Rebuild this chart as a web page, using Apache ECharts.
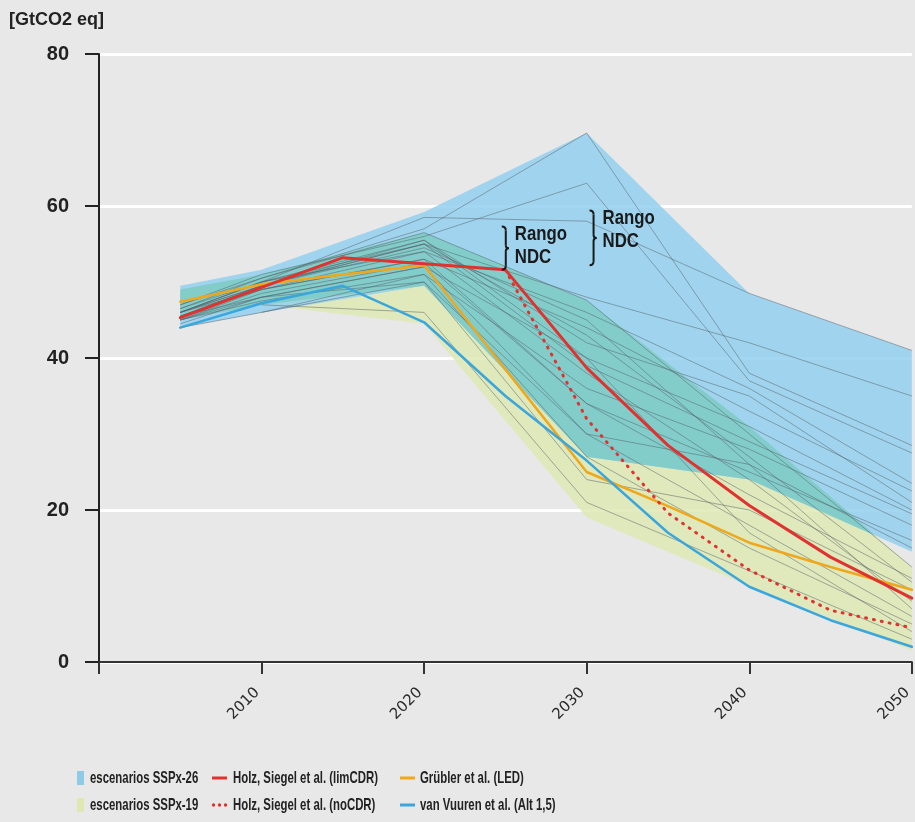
<!DOCTYPE html>
<html>
<head>
<meta charset="utf-8">
<script src="https://cdn.jsdelivr.net/npm/echarts@6/dist/echarts.min.js"></script>
<style>
html,body{margin:0;padding:0;background:#e8e8e8;}
#chart{width:915px;height:822px;}
</style>
</head>
<body>
<div id="chart"></div>
<script>
// ---------- data ----------
const scenarioYears = [2005, 2010, 2020, 2030, 2040, 2050];
const ssp26Upper = [49.5, 51.6, 59.2, 69.6, 48.5, 41];
const ssp26Lower = [44, 46, 49.5, 27, 24, 14.5];
const ssp19Upper = [49, 51, 56.5, 47.6, 31, 12.5];
const ssp19Lower = [45, 47, 44.5, 19, 10, 1.5];

const ssp26Runs = [
  [46.5, 50.5, 57, 69.6, 38, 28.5],
  [47, 51, 56, 63, 37, 27.5],
  [46, 50, 58.5, 58, 48.5, 41],
  [45.5, 49.5, 55, 48, 42, 35],
  [46, 50, 54, 46, 36, 23.5],
  [45, 49, 53, 44, 33, 22.5],
  [45.5, 49.5, 55.5, 42, 35, 21],
  [44.5, 48, 52, 40, 31, 20],
  [44, 46, 50, 30, 26, 15],
  [null, 46, 51, 36, 28, 18],
  [46, 50, 55, 39, 29, 19.5],
  [45, 48.5, 52.5, 34, 25, 16]
];
const ssp19Runs = [
  [47, 50.5, 56.5, 47.6, 30, 12.5],
  [46, 49.5, 55, 43, 27, 10.5],
  [45.5, 49, 54, 38, 24, 8],
  [46, 49, 53, 34, 22, 11],
  [45, 48, 52, 30, 18, 6],
  [45, 47.5, 51, 27, 15, 5],
  [null, 47, 46, 21, 12, 3],
  [45.5, 48, 50, 24, 20, 9.5],
  [46.5, 50, 55.5, 40, 17, 4],
  [46, 49.5, 54.5, 45, 26, 7]
];

const modelYears = [2005, 2010, 2015, 2020, 2025, 2030, 2035, 2040, 2045, 2050];
const holzLimCDR = [45.3, 49.3, 53.2, 52.4, 51.6, 38.7, 28.5, 20.6, 13.8, 8.4];
const holzNoCDR  = [null, null, null, null, 51.6, 32, 19.6, 12.1, 6.8, 4.5];
const grublerLED = [47.4, 49.7, 51, 52.2, 38.5, 25, 20.5, 15.7, 12.5, 9.5];
const vanVuuren  = [44, 47.2, 49.5, 44.7, 35, 26.5, 17, 9.9, 5.5, 2];

const yTicks = [0, 20, 40, 60, 80];
const xTicks = [2000, 2010, 2020, 2030, 2040, 2050];

const names = {
  s26: 'escenarios SSPx-26',
  s19: 'escenarios SSPx-19',
  lim: 'Holz, Siegel et al. (limCDR)',
  no: 'Holz, Siegel et al. (noCDR)',
  led: 'Grübler et al. (LED)',
  alt: 'van Vuuren et al. (Alt 1,5)'
};
const colors = {
  s26: '#8ecbe8', s19: '#dde8b2',
  lim: '#e0322f', no: '#e0322f', led: '#efa71c', alt: '#3aa6dc'
};
const bandFill = {
  s26: 'rgba(147,208,239,0.85)',
  s19: 'rgba(221,233,179,0.85)',
  both: 'rgba(126,204,198,0.9)'
};
const ndcNotes = [
  {year: 2024.9, from: 51.6, to: 57.3},
  {year: 2030.3, from: 52.2, to: 59.4}
];

// ---------- helpers ----------
const FONT = '"Liberation Sans", Arial, sans-serif';
function pairs(xs, ys) {
  const out = [];
  xs.forEach((x, i) => { if (ys[i] != null) out.push([x, ys[i]]); });
  return out;
}
// overlap of the two envelopes (x-monotone bands), in data units
function overlapEdges() {
  const lo = scenarioYears.map((_, i) => Math.max(ssp26Lower[i], ssp19Lower[i]));
  const hi = scenarioYears.map((_, i) => Math.min(ssp26Upper[i], ssp19Upper[i]));
  const top = [], bot = [];
  for (let i = 0; i < scenarioYears.length; i++) {
    const d = hi[i] - lo[i];
    if (d >= 0) { top.push([scenarioYears[i], hi[i]]); bot.push([scenarioYears[i], lo[i]]); }
    if (i < scenarioYears.length - 1) {
      const d2 = hi[i + 1] - lo[i + 1];
      if ((d >= 0) !== (d2 >= 0)) {
        const t = d / (d - d2);
        const x = scenarioYears[i] + t * (scenarioYears[i + 1] - scenarioYears[i]);
        const v = lo[i] + t * (lo[i + 1] - lo[i]);
        top.push([x, v]); bot.push([x, v]);
      }
    }
  }
  return {top, bot};
}
function polygonSeries(getEdges, fill, z) {
  return {
    type: 'custom', silent: true, z: z, clip: true,
    data: [[2030, 40]],
    renderItem: (params, api) => {
      const e = getEdges();
      const pts = e.top.map(p => api.coord(p)).concat(e.bot.slice().reverse().map(p => api.coord(p)));
      return {type: 'polygon', shape: {points: pts}, style: {fill: fill}};
    }
  };
}
function envelope(lower, upper) {
  return () => ({top: pairs(scenarioYears, upper), bot: pairs(scenarioYears, lower)});
}
function runLine(vals) {
  return {
    type: 'line', silent: true, showSymbol: false, symbol: 'none',
    data: pairs(scenarioYears, vals),
    lineStyle: {color: 'rgba(85,95,105,0.5)', width: 1}, z: 4
  };
}
function mainLine(key, vals, width, type) {
  return {
    type: 'line', name: names[key], silent: true, showSymbol: false, symbol: 'none',
    data: pairs(modelYears, vals),
    itemStyle: {color: colors[key]},
    lineStyle: {color: colors[key], width: width, type: type || 'solid', cap: 'round'},
    z: 6
  };
}

const series = [].concat(
  [
    polygonSeries(envelope(ssp19Lower, ssp19Upper), bandFill.s19, 1),
    polygonSeries(envelope(ssp26Lower, ssp26Upper), bandFill.s26, 2),
    polygonSeries(overlapEdges, bandFill.both, 3)
  ],
  ssp26Runs.map(runLine),
  ssp19Runs.map(runLine),
  [
    mainLine('led', grublerLED, 2.5),
    mainLine('alt', vanVuuren, 2.5),
    mainLine('no', holzNoCDR, 3, [1, 7]),
    mainLine('lim', holzLimCDR, 3)
  ]
);

const chart = echarts.init(document.getElementById('chart'), null, {renderer: 'canvas'});
chart.setOption({
  backgroundColor: '#e8e8e8',
  animation: false,
  title: {
    text: '[GtCO2 eq]', left: 4, top: 6,
    textStyle: {fontFamily: FONT, fontWeight: 'bold', fontSize: 18, color: '#222'}
  },
  grid: {left: 99, right: 2, top: 54, bottom: 160, containLabel: false},
  xAxis: {
    type: 'value', min: xTicks[0], max: xTicks[xTicks.length - 1], interval: 10,
    axisLine: {lineStyle: {color: '#333', width: 2}},
    axisTick: {show: true, length: 12, lineStyle: {color: '#333', width: 2}},
    axisLabel: {
      rotate: 45, margin: 24, padding: [0, 6, 0, 0],
      fontFamily: '"DejaVu Sans", sans-serif', fontSize: 15, color: '#2a2a2a',
      formatter: v => (xTicks.indexOf(v) > 0 ? String(v) : '')
    },
    splitLine: {show: false}
  },
  yAxis: {
    type: 'value', min: yTicks[0], max: yTicks[yTicks.length - 1], interval: 20,
    axisLine: {show: true, lineStyle: {color: '#222', width: 2}},
    axisTick: {show: true, length: 14, lineStyle: {color: '#222', width: 2}},
    axisLabel: {margin: 30, fontFamily: FONT, fontWeight: 'bold', fontSize: 20, color: '#222'},
    splitLine: {show: true, lineStyle: {color: '#ffffff', width: 3}}
  },
  series: series
});

// ---------- annotations & legend (graphic elements) ----------
const graphics = [];
const ink = '#1a1a1a';
function seg(x1, y1, x2, y2) {
  return {type: 'line', z: 100, shape: {x1, y1, x2, y2}, style: {stroke: ink, lineWidth: 2}};
}
function curl(x1, y1, cx, cy, x2, y2) {
  return {type: 'bezierCurve', z: 100, shape: {x1, y1, x2, y2, cpx1: cx, cpy1: cy},
          style: {stroke: ink, lineWidth: 2, fill: null}};
}
ndcNotes.forEach(n => {
  const pb = chart.convertToPixel({xAxisIndex: 0, yAxisIndex: 0}, [n.year, n.from]);
  const pt = chart.convertToPixel({xAxisIndex: 0, yAxisIndex: 0}, [n.year, n.to]);
  const x0 = pb[0] - 2, y0 = pt[1], y1 = pb[1], ym = (y0 + y1) / 2;
  const s = x0 + 4;
  graphics.push(
    curl(x0, y0, s, y0, s, y0 + 4),
    seg(s, y0 + 4, s, ym - 3),
    curl(s, ym - 3, s, ym, s + 3, ym),
    curl(s + 3, ym, s, ym, s, ym + 3),
    seg(s, ym + 3, s, y1 - 4),
    curl(s, y1 - 4, s, y1, x0, y1)
  );
  graphics.push({
    type: 'text', z: 100, x: x0 + 13, y: y0 - 4, scaleX: 0.8,
    style: {
      text: 'Rango\nNDC', fill: ink,
      font: 'bold 21px ' + FONT, lineHeight: 23, verticalAlign: 'top', align: 'left'
    }
  });
});

// legend: three columns, two rows
const legendRows = [778, 805];
const legendCols = [
  {x: 77, textX: 90, items: ['s26', 's19'], kind: 'box'},
  {x: 212, textX: 233, items: ['lim', 'no'], kind: 'line'},
  {x: 400, textX: 420, items: ['led', 'alt'], kind: 'line'}
];
legendCols.forEach(col => {
  col.items.forEach((key, r) => {
    const cy = legendRows[r];
    if (col.kind === 'box') {
      graphics.push({type: 'rect', z: 100, shape: {x: col.x, y: cy - 7, width: 7, height: 14},
                     style: {fill: colors[key]}});
    } else if (key === 'no') {
      [0, 6, 12].forEach(dx => graphics.push({
        type: 'circle', z: 100, shape: {cx: col.x + 1.5 + dx, cy: cy, r: 1.7},
        style: {fill: colors[key]}
      }));
    } else {
      graphics.push({type: 'rect', z: 100, shape: {x: col.x, y: cy - 1.5, width: 15, height: 3},
                     style: {fill: colors[key]}});
    }
    graphics.push({
      type: 'text', z: 100, x: col.textX, y: cy, scaleX: 0.67,
      style: {text: names[key], fill: '#222', font: 'bold 17px ' + FONT,
              verticalAlign: 'middle', align: 'left'}
    });
  });
});
chart.setOption({graphic: graphics});
</script>
</body>
</html>
